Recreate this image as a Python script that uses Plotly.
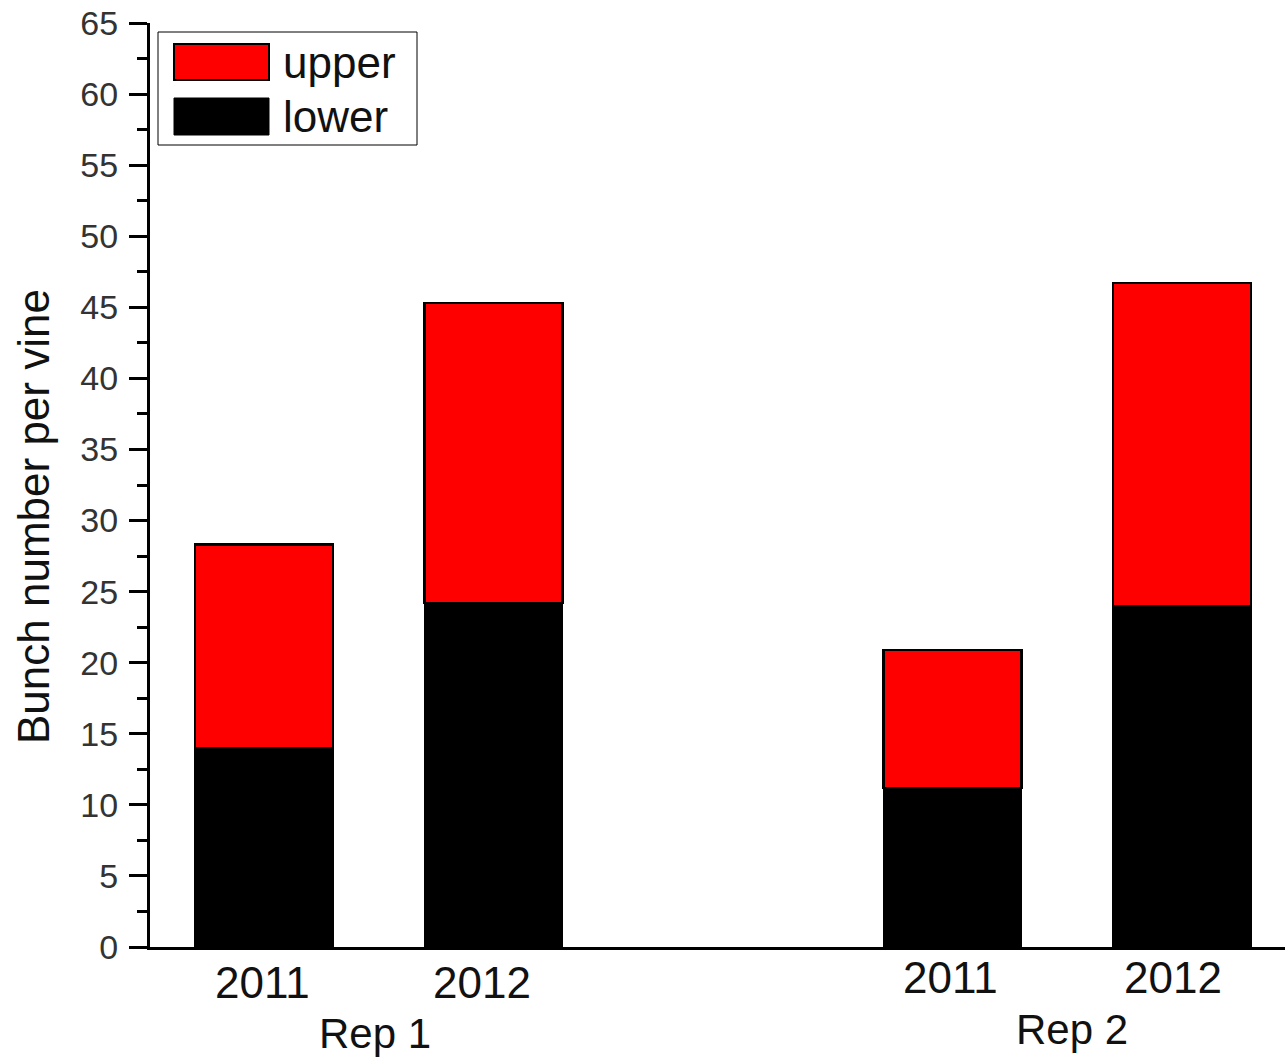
import plotly.graph_objects as go

# Bunch counts per vine, split by canopy zone
positions = [1, 2, 4, 5]
years = ["2011", "2012", "2011", "2012"]
reps = ["Rep 1", "Rep 2"]
rep_centers = [1.5, 4.5]
lower = [14.0, 24.2, 11.2, 24.0]
upper = [14.3, 21.1, 9.7, 22.7]

FONT = "Arial, Liberation Sans, sans-serif"
W, H = 1285, 1059
ML, MR, MT, MB = 150, 0, 23, 112
PW, PH = W - ML - MR, H - MT - MB


def px(x):
    return (x - ML) / PW


def py(y):
    return 1 - (y - MT) / PH


fig = go.Figure()
fig.add_trace(go.Bar(
    x=positions, y=lower, name="lower", width=0.6,
    marker=dict(color="black", line=dict(color="black", width=2)),
    showlegend=False,
))
fig.add_trace(go.Bar(
    x=positions, y=upper, name="upper", width=0.6,
    marker=dict(color="#ff0000", line=dict(color="black", width=2.5)),
    showlegend=False,
))

# Legend box drawn by hand for large swatches
shapes = [
    dict(type="rect", xref="paper", yref="paper",
         x0=px(158), x1=px(417), y0=py(145), y1=py(32),
         line=dict(color="black", width=1), fillcolor="white", layer="above"),
    dict(type="rect", xref="paper", yref="paper",
         x0=px(174), x1=px(269), y0=py(80), y1=py(44),
         line=dict(color="black", width=2), fillcolor="#ff0000", layer="above"),
    dict(type="rect", xref="paper", yref="paper",
         x0=px(174), x1=px(269), y0=py(135), y1=py(98),
         line=dict(color="black", width=1), fillcolor="black", layer="above"),
]

TEXT = dict(family=FONT, size=44, color="#111")
REP_TEXT = dict(family=FONT, size=42, color="#111")

annotations = [
    dict(text="upper", xref="paper", yref="paper", x=px(281), y=py(62),
         xanchor="left", yanchor="middle", showarrow=False, font=TEXT),
    dict(text="lower", xref="paper", yref="paper", x=px(281), y=py(116),
         xanchor="left", yanchor="middle", showarrow=False, font=TEXT),
    # y-axis title
    dict(text="Bunch number per vine", xref="paper", yref="paper",
         x=px(33), y=py(517), xanchor="center", yanchor="middle",
         textangle=-90, showarrow=False, font=TEXT),
]

# Year labels under each bar and replicate labels under each group
year_shift_x = [-2, -12, -2, -9]
year_shift_y = [-35, -35, -30, -30]
for xv, t, sx, sy in zip(positions, years, year_shift_x, year_shift_y):
    annotations.append(dict(
        text=t, x=xv, xref="x", y=0, yref="paper",
        xanchor="center", yanchor="middle", xshift=sx, yshift=sy,
        showarrow=False, font=TEXT))
rep_shift_x = [-4, 5]
rep_shift_y = [-86, -82]
for xv, t, sx, sy in zip(rep_centers, reps, rep_shift_x, rep_shift_y):
    annotations.append(dict(
        text=t, x=xv, xref="x", y=0, yref="paper",
        xanchor="center", yanchor="middle", xshift=sx, yshift=sy,
        showarrow=False, font=REP_TEXT))

fig.update_layout(
    width=W, height=H,
    margin=dict(l=ML, r=MR, t=MT, b=MB),
    barmode="stack",
    plot_bgcolor="white", paper_bgcolor="white",
    shapes=shapes, annotations=annotations,
    xaxis=dict(
        range=[0.503, 5.449], showticklabels=False, ticks="",
        showgrid=False, zeroline=False,
        showline=True, linecolor="black", linewidth=3,
    ),
    yaxis=dict(
        range=[0, 65], tick0=0, dtick=5,
        ticks="outside", ticklen=18, tickwidth=3, tickcolor="black",
        minor=dict(dtick=2.5, ticks="outside", ticklen=10,
                   tickwidth=3, tickcolor="black"),
        showgrid=False, zeroline=False,
        showline=True, linecolor="black", linewidth=3,
        ticklabelstandoff=4,
        tickfont=dict(family=FONT, size=34, color="#333"),
    ),
)

fig.write_html("out.html")
